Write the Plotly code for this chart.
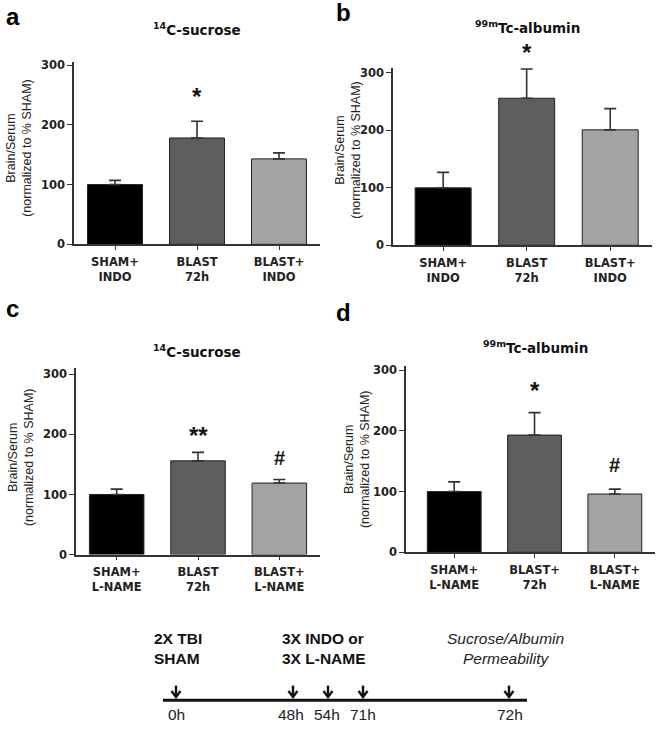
import plotly.graph_objects as go

W, H = 660, 730

# ---------------- data ----------------
cats_indo = ["SHAM+<br>INDO", "BLAST<br>72h", "BLAST+<br>INDO"]
cats_lname_c = ["SHAM+<br>L-NAME", "BLAST<br>72h", "BLAST+<br>L-NAME"]
cats_lname_d = ["SHAM+<br>L-NAME", "BLAST+<br>72h", "BLAST+<br>L-NAME"]

a_mean = [100, 178, 143]
a_sem = [7, 28, 10]
b_mean = [100, 256, 201]
b_sem = [27, 51, 37]
c_mean = [100, 156, 119]
c_sem = [9, 14, 6]
d_mean = [100, 193, 96]
d_sem = [16, 37, 8]

a_sig = ["", "*", ""]
b_sig = ["", "*", ""]
c_sig = ["", "**", "#"]
d_sig = ["", "*", "#"]

y_ticks = [0, 100, 200, 300]

timeline_labels = ["0h", "48h", "54h", "71h", "72h"]

# ---------------- styles ----------------
bar_colors = ["#000000", "#5e5e5e", "#a3a3a3"]
axis_col = "#333333"
TICKFONT = dict(family="DejaVu Sans", size=11.5, color="#222222", weight="bold")


def px(x):
    return x / W


def py(y):
    return 1 - y / H


panels = [
    dict(cats=cats_indo, mean=a_mean, sem=a_sem, sig=a_sig,
         title="<sup>14</sup>C-sucrose", xd=(74, 320), xr=(-0.5, 2.5),
         yd=(244, 59), ytop=305, tpos=(197, 25), ylab=(19, 146),
         lab="a", lpos=(4, 13), shifts=[0, 9, 0]),
    dict(cats=cats_indo, mean=b_mean, sem=b_sem, sig=b_sig,
         title="<sup>99m</sup>Tc-albumin", xd=(393, 652), xr=(-0.6, 2.5),
         yd=(245, 65), ytop=308.6, tpos=(527, 23), ylab=(348, 148),
         lab="b", lpos=(334, 9), shifts=[0, 1, 0]),
    dict(cats=cats_lname_c, mean=c_mean, sem=c_sem, sig=c_sig,
         title="<sup>14</sup>C-sucrose", xd=(76, 320), xr=(-0.5, 2.5),
         yd=(559, 370), ytop=309.8, tpos=(197, 352), ylab=(21, 460),
         lab="c", lpos=(4, 309), shifts=[0, 1, 8]),
    dict(cats=cats_lname_d, mean=d_mean, sem=d_sem, sig=d_sig,
         title="<sup>99m</sup>Tc-albumin", xd=(406, 655), xr=(-0.6, 2.5),
         yd=(556.7, 368), ytop=306, tpos=(535, 348), ylab=(357, 462),
         lab="d", lpos=(334, 313), shifts=[0, 7, 11]),
]

fig = go.Figure()
annotations = []
shapes = []
layout = {}

for i, p in enumerate(panels, start=1):
    xa = "x" if i == 1 else f"x{i}"
    ya = "y" if i == 1 else f"y{i}"
    xkey = "xaxis" if i == 1 else f"xaxis{i}"
    ykey = "yaxis" if i == 1 else f"yaxis{i}"
    idx = list(range(len(p["cats"])))
    fig.add_trace(go.Bar(
        x=idx, y=p["mean"], xaxis=xa, yaxis=ya, width=0.67,
        marker=dict(color=bar_colors, line=dict(color="#222222", width=1)),
        error_y=dict(type="data", symmetric=False, array=p["sem"],
                     arrayminus=[0] * len(p["sem"]), color=axis_col,
                     thickness=1.6, width=6),
        showlegend=False, hoverinfo="skip",
    ))
    layout[xkey] = dict(
        domain=[px(p["xd"][0]), px(p["xd"][1])], range=list(p["xr"]),
        anchor=ya, tickmode="array", tickvals=idx, ticktext=p["cats"],
        showline=True, linecolor=axis_col, linewidth=1.5,
        ticks="outside", ticklen=4, tickwidth=1.2, tickcolor=axis_col,
        ticklabelstandoff=2,
        tickfont=TICKFONT, showgrid=False, zeroline=False, fixedrange=True,
    )
    layout[ykey] = dict(
        domain=[py(p["yd"][0]), py(p["yd"][1])], range=[0, p["ytop"]],
        anchor=xa, tickmode="array", tickvals=y_ticks,
        showline=True, linecolor=axis_col, linewidth=1.5,
        ticks="outside", ticklen=5, tickwidth=1.2, tickcolor=axis_col,
        tickfont=TICKFONT, showgrid=False, zeroline=False, fixedrange=True,
    )
    annotations.append(dict(
        text=p["title"], xref="paper", yref="paper",
        x=px(p["tpos"][0]), y=py(p["tpos"][1]), xanchor="center", yanchor="middle",
        showarrow=False,
        font=dict(family="DejaVu Sans", size=13.5, color="#111111", weight="bold"),
    ))
    annotations.append(dict(
        text="Brain/Serum<br>(normalized to % SHAM)", xref="paper", yref="paper",
        x=px(p["ylab"][0]), y=py(p["ylab"][1]), xanchor="center", yanchor="middle",
        textangle=-90, showarrow=False,
        font=dict(family="Liberation Sans", size=12.5, color="#222222"),
    ))
    annotations.append(dict(
        text="<b>%s</b>" % p["lab"], xref="paper", yref="paper",
        x=px(p["lpos"][0]), y=py(p["lpos"][1]), xanchor="left", yanchor="middle",
        showarrow=False, font=dict(family="Liberation Sans", size=24, color="#000000"),
    ))
    for k, s in enumerate(p["sig"]):
        if not s:
            continue
        fsize = 24 if "*" in s else 20
        annotations.append(dict(
            text="<b>%s</b>" % s, xref=xa, yref=ya,
            x=idx[k], y=p["mean"][k] + p["sem"][k], xanchor="center", yanchor="bottom",
            yshift=p["shifts"][k], showarrow=False,
            font=dict(family="Liberation Sans", size=fsize, color="#111111"),
        ))

# ---------------- timeline diagram ----------------
tl_x = [176, 293, 328, 363, 509]
tl_lab_x = [176, 291, 327, 363, 510]
shapes.append(dict(type="line", xref="paper", yref="paper",
                   x0=px(163), x1=px(527), y0=py(707), y1=py(707),
                   line=dict(color="#111111", width=3)))
for xa_ in tl_x:
    shapes.append(dict(type="line", xref="paper", yref="paper",
                       x0=px(xa_), x1=px(xa_), y0=py(692), y1=py(703),
                       line=dict(color="#111111", width=2.4)))
    shapes.append(dict(type="path", xref="paper", yref="paper",
                       path="M %f,%f L %f,%f L %f,%f" % (
                           px(xa_ - 4.5), py(697.5), px(xa_), py(703.5),
                           px(xa_ + 4.5), py(697.5)),
                       line=dict(color="#111111", width=2.4)))
for xl, lab in zip(tl_lab_x, timeline_labels):
    annotations.append(dict(
        text=lab, xref="paper", yref="paper", x=px(xl), y=py(721),
        xanchor="center", yanchor="middle", showarrow=False,
        font=dict(family="Liberation Sans", size=15.5, color="#222222"),
    ))

annotations.append(dict(
    text="<b>2X TBI<br>SHAM</b>", xref="paper", yref="paper", x=px(152), y=py(654.5),
    xanchor="left", yanchor="middle", align="left", showarrow=False,
    font=dict(family="Liberation Sans", size=15.5, color="#111111"),
))
annotations.append(dict(
    text="<b>3X INDO or<br>3X L-NAME</b>", xref="paper", yref="paper", x=px(280), y=py(654.5),
    xanchor="left", yanchor="middle", align="left", showarrow=False,
    font=dict(family="Liberation Sans", size=15.5, color="#111111"),
))
annotations.append(dict(
    text="<i>Sucrose/Albumin<br>Permeability</i>", xref="paper", yref="paper", x=px(505), y=py(654.5),
    xanchor="center", yanchor="middle", align="center", showarrow=False,
    font=dict(family="Liberation Sans", size=15.5, color="#222222"),
))

fig.update_layout(
    width=W, height=H, margin=dict(l=0, r=0, t=0, b=0),
    paper_bgcolor="white", plot_bgcolor="white",
    annotations=annotations, shapes=shapes,
    font=dict(family="Liberation Sans"),
    **layout,
)

fig.write_html(
    "out.html",
    config={"displayModeBar": False},
    post_script="document.body.style.margin='0';document.body.style.padding='0';",
)
